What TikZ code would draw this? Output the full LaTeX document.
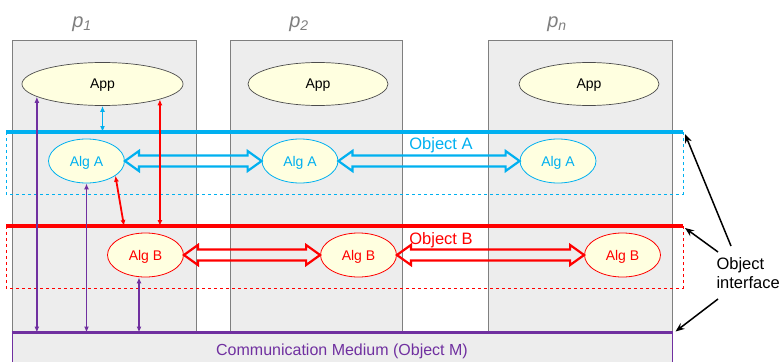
\documentclass[tikz,border=0pt]{standalone}
\usepackage{fontspec}
\setmainfont{Liberation Sans}
\usetikzlibrary{shapes,arrows.meta,positioning,calc}
\definecolor{objA}{HTML}{00B0F0}
\definecolor{objB}{HTML}{FF0000}
\definecolor{objM}{HTML}{7030A0}
\definecolor{procfill}{HTML}{EDEDED}
\definecolor{procline}{HTML}{7F7F7F}
\definecolor{appfill}{HTML}{FFFFE0}

% hollow two-headed arrow between two nodes on the same height
\newcommand{\hollowarrow}[3]{%
  \draw[#3, line width=2.2pt, line join=miter] let \p1=(#1.east), \p2=(#2.west) in
    (\x1,\y1) -- (\x1+14pt,\y1+10pt) -- (\x1+14pt,\y1+5.5pt) -- (\x2-14pt,\y1+5.5pt)
    -- (\x2-14pt,\y1+10pt) -- (\x2,\y1) -- (\x2-14pt,\y1-10pt) -- (\x2-14pt,\y1-5.5pt)
    -- (\x1+14pt,\y1-5.5pt) -- (\x1+14pt,\y1-10pt) -- cycle;}

\begin{document}
\begin{tikzpicture}[x=1pt, y=-1pt,
    proc/.style={draw=procline, fill=procfill, line width=0.8pt, inner sep=0},
    app/.style={ellipse, draw=black!70, fill=appfill, line width=0.7pt, inner sep=0,
      minimum height=43pt, text depth=0pt, font=\fontsize{14}{16}\selectfont},
    alg/.style={ellipse, fill=appfill, line width=0.8pt, inner sep=0, text depth=0pt,
      minimum width=76pt, minimum height=44pt, font=\fontsize{14}{16}\selectfont},
    plabel/.style={text=procline, font=\fontsize{20}{22}\selectfont\itshape},
    link/.style={line width=1.8pt, {Latex[length=6pt,width=5pt]}-{Latex[length=6pt,width=5pt]}},
    pointer/.style={line width=1.5pt, -{Stealth[length=9pt,width=7pt]}}]
    \useasboundingbox (0,0) rectangle (783,361);

    % processes
    \node (proc1) [proc, minimum width=184pt, minimum height=293pt] at (104,186.5) {};
    \node (proc2) [proc, minimum width=172pt, minimum height=293pt] at (316,186.5) {};
    \node (procn) [proc, minimum width=184pt, minimum height=293pt] at (580,186.5) {};
    \node (lab1) [plabel] at (82,24) {p\textsubscript{1}};
    \node (lab2) [plabel] at (299,24) {p\textsubscript{2}};
    \node (labn) [plabel] at (557,24) {p\textsubscript{n}};

    % object interfaces
    \draw [objA, dashed, line width=0.9pt] (6,132) -- (6,194) -- (683,194) -- (683,132);
    \draw [objB, dashed, line width=0.9pt] (6,226) -- (6,288) -- (683,288) -- (683,226);
    \draw [objA, line width=3.5pt] (6,132) coordinate (aline) -- (683,132) coordinate (aend);
    \draw [objB, line width=3.5pt] (6,226) coordinate (bline) -- (683,226) coordinate (bend);
    \node (objAlab) [text=objA, font=\fontsize{16.5}{18}\selectfont] at (441,145) {Object A};
    \node (objBlab) [text=objB, font=\fontsize{16.5}{18}\selectfont] at (441,240) {Object B};

    % communication medium
    \node (comm) [draw=objM, fill=procfill, line width=1pt, minimum width=660pt, minimum height=36pt,
      text=objM, font=\fontsize{16}{18}\selectfont] at (342,351) {Communication Medium (Object M)};
    \draw [objM, line width=3pt] (comm.north west) -- (comm.north east) coordinate (mend);

    \node (app1) [app, minimum width=161pt] at (102.5,84) {App};
    \node (app2) [app, minimum width=140pt] at (318,84) {App};
    \node (appn) [app, minimum width=140pt] at (589,84) {App};

    \node (algA1) [alg, draw=objA, text=objA] at (86.5,161) {Alg A};
    \node (algA2) [alg, draw=objA, text=objA] at (300,161) {Alg A};
    \node (algAn) [alg, draw=objA, text=objA] at (558,161) {Alg A};
    \node (algB1) [alg, draw=objB, text=objB] at (145.5,255) {Alg B};
    \node (algB2) [alg, draw=objB, text=objB] at (358.5,255) {Alg B};
    \node (algBn) [alg, draw=objB, text=objB] at (622.5,255) {Alg B};

    \hollowarrow{algA1}{algA2}{objA}
    \hollowarrow{algA2}{algAn}{objA}
    \hollowarrow{algB1}{algB2}{objB}
    \hollowarrow{algB2}{algBn}{objB}

    % calls inside p1
    \draw [link, objA] (app1.south) -- (app1.south |- aline);
    \draw [link, objB] (app1.-15) -- (app1.-15 |- bline);
    \draw [link, objB] (algA1.-27) -- (124,226);
    \draw [link, objM] (app1.191) -- (app1.191 |- comm.north);
    \draw [link, objM] (algA1.south) -- (algA1.south |- comm.north);
    \draw [link, objM] ([xshift=-6.5pt]algB1.south) -- ([xshift=-6.5pt]algB1.south |- comm.north);

    % legend
    \node (oif) [align=left, anchor=west, font=\fontsize{16.5}{19}\selectfont] at (713,273) {Object\\interface};
    \coordinate (tA) at (731,246);
    \coordinate (tB) at (718,252);
    \coordinate (tM) at (718,299);
    \draw [pointer] (tA) -- ([shift={(2,2)}]aend);
    \draw [pointer] (tB) -- ([shift={(2,2)}]bend);
    \draw [pointer] (tM) -- ([shift={(3,-1)}]mend);
\end{tikzpicture}
\end{document}
